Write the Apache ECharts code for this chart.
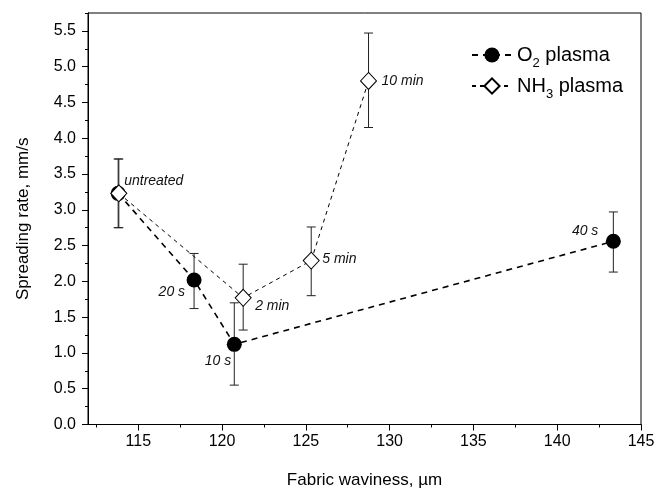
<!DOCTYPE html>
<html><head><meta charset="utf-8">
<script src="https://cdn.jsdelivr.net/npm/echarts@6/dist/echarts.min.js"></script>
<style>html,body{margin:0;padding:0;background:#fff}#c{width:659px;height:490px}</style>
</head><body><div id="c"></div>
<script>
// ---- data ----
const o2X = [113.8, 118.33, 120.73, 143.35];
const o2Y = [3.23, 2.02, 1.12, 2.56];
const o2Lo = [2.75, 1.62, 0.55, 2.13];
const o2Hi = [3.71, 2.39, 1.70, 2.97];
const o2Labels = ['untreated', '20 s', '10 s', '40 s'];

const nh3X = [113.84, 121.26, 125.32, 128.74];
const nh3Y = [3.23, 1.77, 2.29, 4.80];
const nh3Lo = [2.75, 1.32, 1.80, 4.15];
const nh3Hi = [3.71, 2.24, 2.76, 5.47];
const nh3Labels = ['', '2 min', '5 min', '10 min'];

const xTicks = [115, 120, 125, 130, 135, 140, 145];
const xMinor = [112.5, 117.5, 122.5, 127.5, 132.5, 137.5, 142.5];
const yTicks = [0, 0.5, 1, 1.5, 2, 2.5, 3, 3.5, 4, 4.5, 5, 5.5];
const yMinor = [0.25, 0.75, 1.25, 1.75, 2.25, 2.75, 3.25, 3.75, 4.25, 4.75, 5.25, 5.75];

// ---- label placement (style) ----
const labelPos = {
  'untreated': {align: 'left', offset: [6, -12]},
  '20 s': {align: 'right', offset: [-9, 12]},
  '10 s': {align: 'right', offset: [-3, 17]},
  '40 s': {align: 'right', offset: [-15, -10]},
  '2 min': {align: 'left', offset: [12, 8]},
  '5 min': {align: 'left', offset: [11, -2]},
  '10 min': {align: 'left', offset: [13, 0]}
};
const FONT = '"Liberation Sans", Arial, sans-serif';

function pts(xs, ys, labels) {
  return xs.map((x, i) => {
    const lab = labels[i];
    const item = {value: [x, ys[i]]};
    if (lab) {
      const p = labelPos[lab];
      item.label = {
        show: true, formatter: lab, position: 'inside',
        align: p.align, verticalAlign: 'middle', offset: p.offset,
        fontStyle: 'italic', fontSize: 14, color: '#111', fontFamily: FONT
      };
    }
    return item;
  });
}
function errs(xs, lo, hi) { return xs.map((x, i) => [x, lo[i], hi[i]]); }

function errRender(params, api) {
  const x = api.value(0);
  const a = api.coord([x, api.value(1)]);
  const b = api.coord([x, api.value(2)]);
  const hw = 4.5;
  const st = {stroke: '#222', lineWidth: 1};
  return {type: 'group', children: [
    {type: 'line', shape: {x1: a[0], y1: a[1], x2: b[0], y2: b[1]}, style: st},
    {type: 'line', shape: {x1: a[0] - hw, y1: a[1], x2: a[0] + hw, y2: a[1]}, style: st},
    {type: 'line', shape: {x1: b[0] - hw, y1: b[1], x2: b[0] + hw, y2: b[1]}, style: st}
  ]};
}

const chart = echarts.init(document.getElementById('c'), null, {renderer: 'canvas'});
const axisCommon = {
  axisLine: {show: true, lineStyle: {color: '#000', width: 1}},
  splitLine: {show: false}
};
chart.setOption({
  animation: false,
  backgroundColor: '#fff',
  grid: {left: 88, right: 18, top: 13, bottom: 65.5, containLabel: false, outerBoundsMode: 'none',
    show: true, borderColor: '#000', borderWidth: 1, backgroundColor: 'transparent'},
  legend: {
    orient: 'vertical', left: 466, top: 35, itemWidth: 40, itemHeight: 19, itemGap: 1,
    data: ['O2 plasma', 'NH3 plasma'],
    formatter: n => n === 'O2 plasma' ? 'O{s|2} plasma' : 'NH{s|3} plasma',
    textStyle: {fontSize: 20, color: '#000', fontFamily: FONT, lineHeight: 30,
      rich: {s: {fontSize: 13, fontFamily: FONT, color: '#000', verticalAlign: 'bottom', lineHeight: 13}}}
  },
  xAxis: [
    Object.assign({}, axisCommon, {
      type: 'value', min: 112, max: 145, position: 'bottom',
      axisTick: {show: true, inside: false, length: 6, customValues: xTicks, lineStyle: {color: '#000'}},
      axisLabel: {show: true, customValues: xTicks, fontSize: 16, color: '#000', fontFamily: FONT, margin: 9},
      name: 'Fabric waviness, µm', nameLocation: 'middle', nameGap: 47,
      nameTextStyle: {fontSize: 17, color: '#000', fontFamily: FONT}
    }),
    Object.assign({}, axisCommon, {
      type: 'value', min: 112, max: 145, position: 'bottom',
      axisTick: {show: true, inside: false, length: 3, customValues: xMinor, lineStyle: {color: '#000'}},
      axisLabel: {show: false}
    })
  ],
  yAxis: [
    Object.assign({}, axisCommon, {
      type: 'value', min: 0, max: 5.75, position: 'left',
      axisTick: {show: true, inside: false, length: 6, customValues: yTicks, lineStyle: {color: '#000'}},
      axisLabel: {show: true, customValues: yTicks, fontSize: 16, color: '#000', fontFamily: FONT, margin: 12,
        formatter: v => v.toFixed(1)},
      name: 'Spreading rate, mm/s', nameLocation: 'middle', nameGap: 56,
      nameTextStyle: {fontSize: 17, color: '#000', fontFamily: FONT}
    }),
    Object.assign({}, axisCommon, {
      type: 'value', min: 0, max: 5.75, position: 'left',
      axisTick: {show: true, inside: false, length: 3, customValues: yMinor, lineStyle: {color: '#000'}},
      axisLabel: {show: false}
    })
  ],
  series: [
    {type: 'custom', name: 'errO2', renderItem: errRender, data: errs(o2X, o2Lo, o2Hi), z: 1, silent: true},
    {type: 'custom', name: 'errNH3', renderItem: errRender, data: errs(nh3X, nh3Lo, nh3Hi), z: 1, silent: true},
    {type: 'line', name: 'O2 plasma', data: pts(o2X, o2Y, o2Labels), z: 3,
      symbol: 'circle', symbolSize: 15,
      itemStyle: {color: '#000', borderColor: '#000', borderWidth: 0},
      lineStyle: {color: '#000', width: 1.6, type: [6, 5]}},
    {type: 'line', name: 'NH3 plasma', data: pts(nh3X, nh3Y, nh3Labels), z: 4,
      symbol: 'diamond', symbolSize: [16, 17],
      itemStyle: {color: '#fff', borderColor: '#000', borderWidth: 1},
      lineStyle: {color: '#000', width: 1, type: [4, 4]}}
  ]
});
</script>
</body></html>
